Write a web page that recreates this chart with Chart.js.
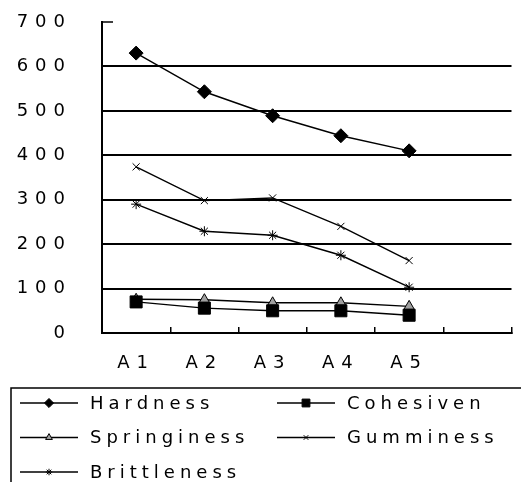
<!DOCTYPE html>
<html>
<head>
<meta charset="utf-8">
<script src="https://cdn.jsdelivr.net/npm/chart.js@4/dist/chart.umd.min.js"></script>
<style>
  html, body { margin: 0; padding: 0; background: #fff; }
  #wrap { width: 521px; height: 482px; position: relative; }
</style>
</head>
<body>
<div id="wrap"><canvas id="grafico"></canvas></div>
<script>
// Datos
const categorias = ['A1', 'A2', 'A3', 'A4', 'A5', ''];
const hardness = [630, 543, 489, 444, 410];
const cohesiven = [70, 56, 50, 50, 40];
const springiness = [76, 75, 68, 68, 60];
const gumminess = [374, 298, 304, 240, 163];
const brittleness = [290, 229, 220, 175, 103];
const yMin = 0, yMax = 700, yPaso = 100;

const FUENTE = '"DejaVu Sans", "Liberation Sans", Arial, sans-serif';
Chart.defaults.color = '#000';
Chart.defaults.font.family = FUENTE;

function serie(nombre, datos, estilo, radio, relleno) {
    return {
        label: nombre,
        data: datos,
        borderColor: '#000',
        borderWidth: 1.4,
        pointStyle: estilo,
        pointRadius: radio,
        pointBackgroundColor: relleno,
        pointBorderColor: '#000',
        pointBorderWidth: 1,
        tension: 0,
        fill: false
    };
}

const datasets = [
    serie('Hardness', hardness, 'rectRot', 7, '#000'),
    serie('Cohesiven', cohesiven, 'rect', 8.5, '#000'),
    serie('Springiness', springiness, 'triangle', 6, '#a0a0a0'),
    serie('Gumminess', gumminess, 'crossRot', 5, '#000'),
    serie('Brittleness', brittleness, 'star', 5, '#000')
];

/**
 * Espaciado de letras: ejes y leyenda usan texto espaciado como el original
 */
const espaciado = {
    id: 'espaciado',
    beforeDraw(chart) {
        chart.ctx.letterSpacing = '7px';
    },
    beforeDatasetsDraw(chart) {
        chart.ctx.letterSpacing = '3px';
    }
};

/**
 * Leyenda dibujada a mano en dos columnas con marco
 */
const leyenda = {
    id: 'leyenda',
    afterDraw(chart) {
        const ctx = chart.ctx;
        const yScale = chart.scales.y;
        ctx.save();
        ctx.letterSpacing = '5px';
        ctx.strokeStyle = '#000';
        ctx.lineWidth = 1.5;

        // pequeño trazo superior del area
        const yTop = yScale.getPixelForValue(yMax);
        ctx.beginPath();
        ctx.moveTo(chart.chartArea.left, yTop);
        ctx.lineTo(chart.chartArea.left + 11, yTop);
        ctx.stroke();

        // marco
        ctx.beginPath();
        ctx.moveTo(chart.width, 388);
        ctx.lineTo(11, 388);
        ctx.lineTo(11, chart.height);
        ctx.stroke();

        ctx.font = '18px ' + FUENTE;
        ctx.textBaseline = 'middle';
        ctx.textAlign = 'left';
        chart.data.datasets.forEach((ds, i) => {
            const col = i % 2;
            const fila = Math.floor(i / 2);
            const x0 = col ? 277 : 20;
            const y = 403 + fila * 34.5;
            ctx.strokeStyle = '#000';
            ctx.lineWidth = 1.4;
            ctx.beginPath();
            ctx.moveTo(x0, y);
            ctx.lineTo(x0 + 58, y);
            ctx.stroke();
            ctx.fillStyle = ds.pointBackgroundColor;
            ctx.strokeStyle = '#000';
            ctx.lineWidth = 1;
            Chart.helpers.drawPoint(ctx, {
                pointStyle: ds.pointStyle,
                radius: ds.pointRadius * 0.65,
                rotation: 0,
                borderWidth: 1
            }, x0 + 29, y);
            ctx.fillStyle = '#000';
            ctx.fillText(ds.label, x0 + 70, y + 1);
        });
        ctx.restore();
    }
};

new Chart(document.getElementById('grafico'), {
    type: 'line',
    data: {
        labels: categorias,
        datasets: datasets
    },
    options: {
        responsive: true,
        maintainAspectRatio: false,
        animation: false,
        layout: {
            padding: { top: 22, left: 0, right: -4, bottom: 104 }
        },
        plugins: {
            legend: { display: false },
            tooltip: { enabled: false }
        },
        scales: {
            x: {
                offset: true,
                z: 1,
                grid: {
                    offset: true,
                    drawOnChartArea: false,
                    drawTicks: true,
                    tickLength: -6,
                    color: '#000',
                    lineWidth: 1.5
                },
                border: { display: true, color: '#000', width: 2 },
                ticks: {
                    font: { size: 18 },
                    padding: 26,
                    maxRotation: 0
                },
                afterFit(scale) {
                    scale.height = 45;
                }
            },
            y: {
                min: yMin,
                max: yMax,
                grid: {
                    drawTicks: false,
                    color: (c) => (c.tick && c.tick.value === yMax) ? 'rgba(0,0,0,0)' : '#000',
                    lineWidth: 2
                },
                border: { display: true, color: '#000', width: 2 },
                ticks: {
                    stepSize: yPaso,
                    font: { size: 18 },
                    padding: 30
                },
                afterFit(scale) {
                    scale.width = 102;
                    // el padding de las etiquetas no debe empujar el area
                    scale.paddingTop = 0;
                    scale.paddingBottom = 0;
                }
            }
        }
    },
    plugins: [espaciado, leyenda]
});
</script>
</body>
</html>
